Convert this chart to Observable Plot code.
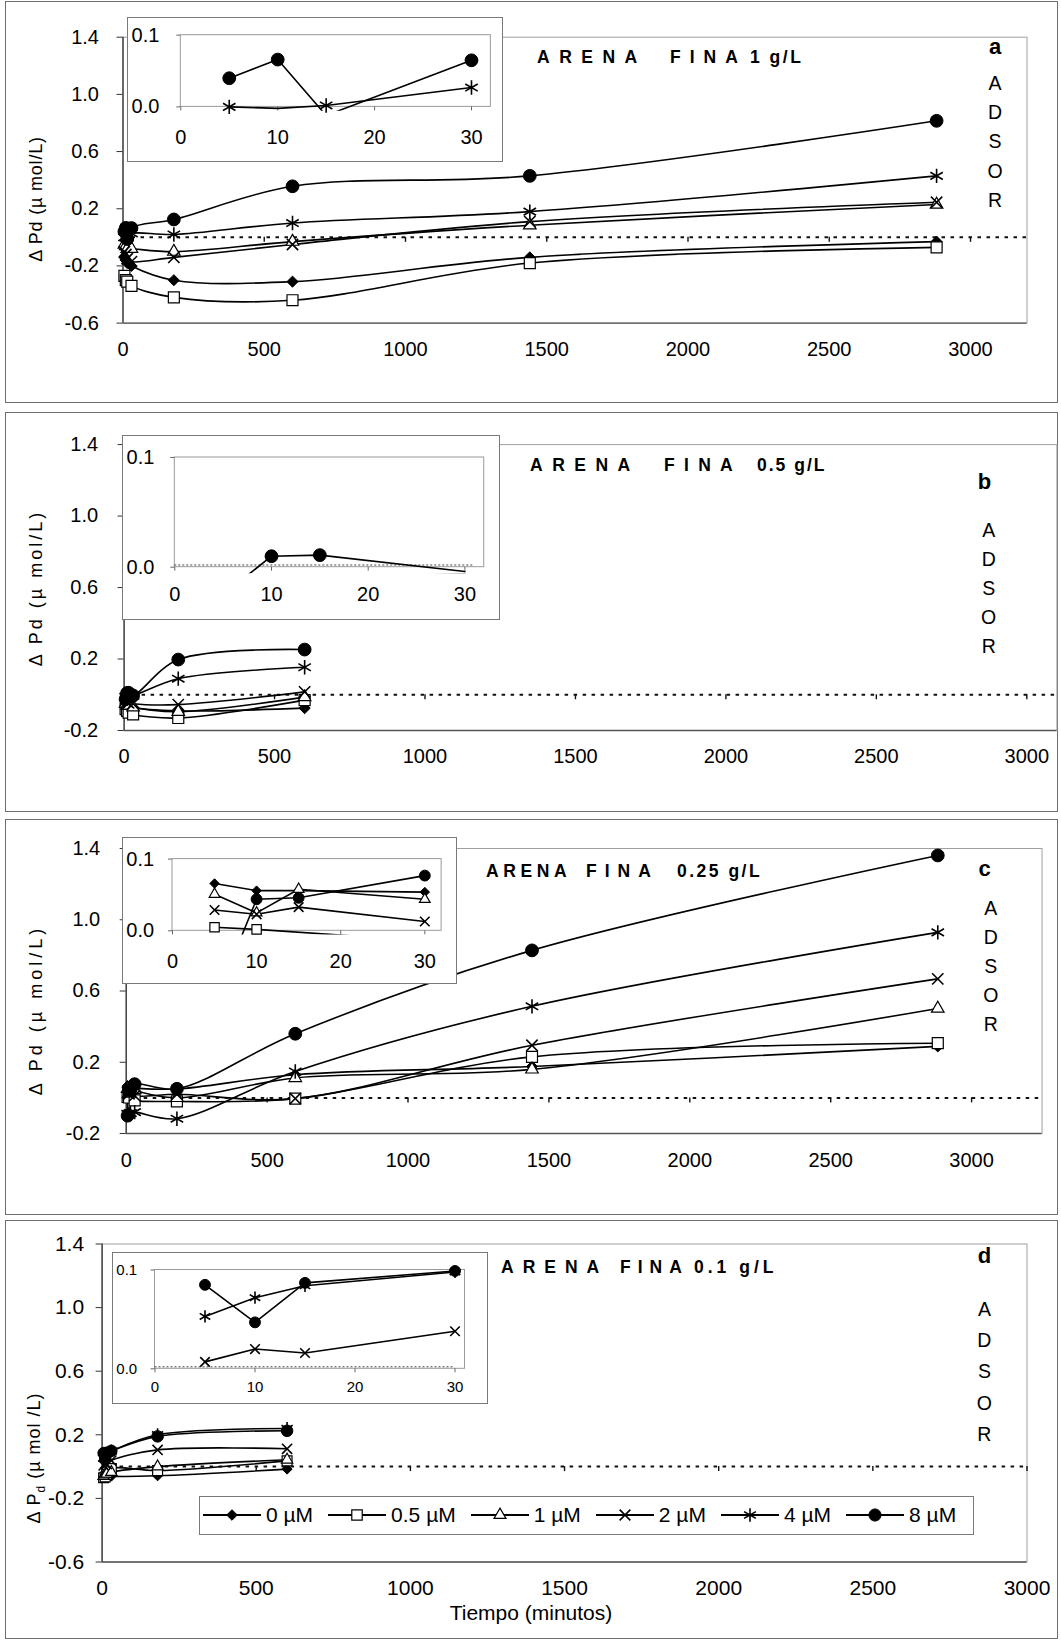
<!DOCTYPE html>
<html>
<head>
<meta charset="utf-8">
<script src="https://cdn.jsdelivr.net/npm/d3@7"></script>
<script src="https://cdn.jsdelivr.net/npm/@observablehq/plot@0.6"></script>
<style>
html,body{margin:0;padding:0;background:#fff;}
#page{position:relative;width:1061px;height:1643px;overflow:hidden;background:#fff;font-family:"Liberation Sans",Arial,Helvetica,sans-serif;color:#000;}
.frame{position:absolute;border:1.5px solid #6e6e6e;box-sizing:border-box;}
.inset{position:absolute;border:1.2px solid #7a7a7a;box-sizing:border-box;background:#fff;}
.inset svg{position:absolute;left:-1.2px;top:-1.2px;overflow:visible;}
.main{position:absolute;left:0;overflow:visible;}
.t{position:absolute;white-space:nowrap;line-height:1;}
.legend{position:absolute;border:1.2px solid #7a7a7a;box-sizing:border-box;background:#fff;display:flex;align-items:center;white-space:nowrap;}
.legend .item{display:flex;align-items:center;margin-right:15px;font-size:21px;white-space:nowrap;flex:none;}
.legend svg{display:block;margin-right:5px;flex:none;}
</style>
</head>
<body>
<div id="page"></div>
<script>
// ---------------- DATA ----------------
const seriesNames = ["0 µM", "0.5 µM", "1 µM", "2 µM", "4 µM", "8 µM"];
const timesLong = [5, 10, 15, 30, 180, 600, 1440, 2880];
const timesShort = [5, 10, 15, 30, 180, 600];
const mainXTicks = [0, 500, 1000, 1500, 2000, 2500, 3000];
const mainYTicksWide = [-0.6, -0.2, 0.2, 0.6, 1.0, 1.4];
const mainYTicksNarrow = [-0.2, 0.2, 0.6, 1.0, 1.4];
const insetXTicks = [0, 10, 20, 30];
const insetYTicks = [0, 0.1];

// Panel a — Arena fina 1 g/L
const a_0uM  = [-0.14, -0.16, -0.18, -0.20, -0.30, -0.31, -0.14, -0.03];
const a_05uM = [-0.27, -0.30, -0.31, -0.34, -0.42, -0.44, -0.18, -0.07];
const a_1uM  = [-0.05, -0.06, -0.08, -0.08, -0.10, -0.03, 0.085, 0.23];
const a_2uM  = [-0.10, -0.12, -0.15, -0.17, -0.14, -0.05, 0.11, 0.245];
const a_4uM  = [0.0, -0.002, 0.002, 0.027, 0.02, 0.10, 0.18, 0.43];
const a_8uM  = [0.040, 0.066, -0.012, 0.065, 0.125, 0.357, 0.43, 0.815];

// Panel b — Arena fina 0.5 g/L
const b_0uM  = [-0.04, -0.05, -0.06, -0.07, -0.09, -0.075];
const b_05uM = [-0.08, -0.09, -0.10, -0.11, -0.13, -0.03];
const b_1uM  = [-0.05, -0.06, -0.06, -0.07, -0.095, -0.013];
const b_2uM  = [-0.03, -0.04, -0.045, -0.05, -0.055, 0.016];
const b_4uM  = [-0.012, -0.008, -0.01, -0.006, 0.09, 0.154];
const b_8uM  = [-0.025, 0.010, 0.011, -0.004, 0.197, 0.253];

// Panel c — Arena fina 0.25 g/L
const c_0uM  = [0.066, 0.056, 0.056, 0.054, 0.05, 0.13, 0.176, 0.289];
const c_05uM = [0.005, 0.002, null, -0.014, -0.02, -0.004, 0.23, 0.307];
const c_1uM  = [0.051, 0.025, 0.058, 0.044, 0.0, 0.112, 0.16, 0.502];
const c_2uM  = [0.029, 0.023, 0.033, 0.013, 0.02, -0.004, 0.295, 0.668];
const c_4uM  = [-0.09, -0.09, -0.085, -0.08, -0.117, 0.148, 0.514, 0.929];
const c_8uM  = [-0.10, 0.044, 0.046, 0.077, 0.051, 0.36, 0.828, 1.361];

// Panel d — Arena fina 0.1 g/L
const d_0uM  = [-0.05, -0.05, -0.055, -0.06, -0.058, -0.016];
const d_05uM = [-0.07, -0.065, -0.05, -0.012, -0.025, 0.036];
const d_1uM  = [-0.06, -0.05, -0.045, -0.035, 0.0, 0.043];
const d_2uM  = [0.007, 0.020, 0.016, 0.038, 0.105, 0.112];
const d_4uM  = [0.053, 0.072, 0.084, 0.098, 0.20, 0.24];
const d_8uM  = [0.085, 0.047, 0.087, 0.099, 0.19, 0.225];

// ---------------- STYLE ----------------
const STY = [
  {symbol: "diamond2", fill: "black", r: 5.0, sw: 1},
  {symbol: "square", fill: "white", r: 6.2, sw: 1.2},
  {symbol: "triangle2", fill: "white", r: 6.0, sw: 1.2},
  {symbol: "times", fill: "none", r: 5.2, sw: 1.6},
  {symbol: "asterisk", fill: "none", r: 6.8, sw: 1.6},
  {symbol: "circle", fill: "black", r: 6.4, sw: 1}
];
const FONT = '"Liberation Sans", Arial, Helvetica, sans-serif';
const page = document.getElementById("page");

function rowsFor(times, arrays) {
  const out = [];
  arrays.forEach((arr, s) => arr.forEach((v, i) => {
    if (v !== null && v !== undefined) out.push({t: times[i], v, s, name: seriesNames[s]});
  }));
  return out;
}

function txt(html, x, y, o = {}) {
  const el = document.createElement("div");
  el.className = "t";
  el.innerHTML = html;
  el.style.left = x + "px";
  el.style.top = y + "px";
  el.style.fontSize = (o.size || 19) + "px";
  el.style.fontWeight = o.bold ? "bold" : "normal";
  el.style.letterSpacing = (o.ls || 0) + "px";
  el.style.transform = o.transform || "translate(0,-50%)";
  if (o.family) el.style.fontFamily = o.family;
  page.appendChild(el);
  return el;
}

function box(cls, x, y, w, h) {
  const el = document.createElement("div");
  el.className = cls;
  el.style.left = x + "px"; el.style.top = y + "px";
  el.style.width = w + "px"; el.style.height = h + "px";
  page.appendChild(el);
  return el;
}

function mainPlot(g, times, arrays) {
  const rows = rowsFor(times, arrays);
  const right = g.ml + g.xMax * g.ppm;
  const mr = 1061 - right;
  const pxPerUnit = (g.yBotPx - g.yTopPx) / (g.yDom[1] - g.yDom[0]);
  const mt = g.yTopPx - g.top;
  const mb = g.top + g.h - g.yBotPx;
  const marks = [
    Plot.frame({stroke: "#a0a0a0", strokeWidth: 1}),
    Plot.ruleY([g.yDom[0]], {stroke: "#555", strokeWidth: 1.3}),
    Plot.ruleY([0], {stroke: "#111", strokeWidth: 2, strokeDasharray: "3.5,5.5"}),
    Plot.ruleX(mainXTicks.filter(d => d > 0), {x: d => d, y1: 0, y2: -5 / pxPerUnit, stroke: "#111", strokeWidth: 1.4}),
    Plot.ruleX([0], {stroke: "#333", strokeWidth: 1.3}),
    Plot.axisY({ticks: g.yTicks, tickFormat: d => d.toFixed(1), tickSize: 6, tickPadding: g.yPad, fontSize: g.fs, label: null, stroke: "#333"}),
    Plot.axisX({ticks: mainXTicks, tickFormat: d => String(d), tickSize: 0, tickPadding: g.xPad, fontSize: g.fs, label: null})
  ];
  for (let s = 0; s < 6; s++) {
    const d = rows.filter(r => r.s === s);
    marks.push(Plot.line(d, {x: "t", y: "v", curve: "catmull-rom", stroke: "black", strokeWidth: 1.6}));
  }
  for (let s = 0; s < 6; s++) {
    const d = rows.filter(r => r.s === s);
    const st = STY[s];
    marks.push(Plot.dot(d, {x: "t", y: "v", symbol: st.symbol, r: st.r * g.mk, fill: st.fill, stroke: "black", strokeWidth: st.sw}));
  }
  const svg = Plot.plot({
    width: 1061, height: g.h,
    marginLeft: g.ml, marginRight: mr, marginTop: mt, marginBottom: mb,
    x: {domain: [0, g.xMax]},
    y: {domain: g.yDom},
    style: {background: "transparent", fontFamily: g.family || FONT, fontSize: g.fs + "px", color: "black", overflow: "visible"},
    marks
  });
  svg.classList.add("main");
  svg.style.position = "absolute";
  svg.style.left = "0px";
  svg.style.top = g.top + "px";
  svg.style.maxWidth = "none";
  page.appendChild(svg);
}

function insetPlot(g, times, arrays) {
  const rows = rowsFor(times, arrays).filter(r => r.t <= 30);
  const ml = g.x0px - g.left;
  const mr = g.left + g.w - (g.x0px + g.xMax * g.ppm);
  const mt = (g.y0px - g.yDom[1] * g.ppu) - g.top;
  const mb = g.top + g.h - (g.y0px - g.yDom[0] * g.ppu);
  const marks = [
    Plot.rect([0], {x1: 0, x2: g.xMax, y1: 0, y2: 0.1, fill: "none", stroke: "#9a9a9a", strokeWidth: 1}),
    Plot.ruleX(insetXTicks, {x: d => d, y1: 0, y2: -4 / g.ppu, stroke: "#666", strokeWidth: 1}),
    Plot.axisY({ticks: insetYTicks, tickFormat: d => d.toFixed(1), tickSize: 4, tickPadding: g.yPad, fontSize: g.fs, label: null, stroke: "#666"}),
    Plot.axisX({ticks: insetXTicks, tickFormat: d => String(d), tickSize: 0, tickPadding: g.xPad, fontSize: g.fs, label: null})
  ];
  if (g.zeroLine) marks.push(Plot.ruleY([0.002], {x1: 0, x2: g.xMax - 1, stroke: "#444", strokeWidth: 1, strokeDasharray: "2,2"}));
  for (let s = 0; s < 6; s++) {
    const d = rows.filter(r => r.s === s);
    marks.push(Plot.line(d, {x: "t", y: "v", stroke: "black", strokeWidth: 1.6, clip: true}));
  }
  for (let s = 0; s < 6; s++) {
    const d = rows.filter(r => r.s === s && r.v >= -0.0005 && r.v <= 0.112);
    const st = STY[s];
    marks.push(Plot.dot(d, {x: "t", y: "v", symbol: st.symbol, r: st.r * g.mk, fill: st.fill, stroke: "black", strokeWidth: st.sw}));
  }
  const svg = Plot.plot({
    width: g.w, height: g.h,
    marginLeft: ml, marginRight: mr, marginTop: mt, marginBottom: mb,
    x: {domain: [0, g.xMax]},
    y: {domain: g.yDom},
    style: {background: "transparent", fontFamily: g.family || FONT, fontSize: g.fs + "px", color: "black", overflow: "visible"},
    marks
  });
  svg.style.maxWidth = "none";
  const holder = box("inset", g.left, g.top, g.w, g.h);
  holder.appendChild(svg);
}

// ---------------- LAYOUT ----------------
box("frame", 5, 1, 1053, 402);
box("frame", 5, 412, 1053, 400);
box("frame", 5, 819, 1053, 396);
box("frame", 5, 1220, 1053, 419);

mainPlot({top: 0, h: 370, ml: 122.5, ppm: 0.2825, xMax: 3200, yDom: [-0.6, 1.4], yTopPx: 36.7, yBotPx: 322.6,
          yTicks: mainYTicksWide, fs: 20, xPad: 19, yPad: 18, mk: 1},
  timesLong, [a_0uM, a_05uM, a_1uM, a_2uM, a_4uM, a_8uM]);
mainPlot({top: 412, h: 370, ml: 123.6, ppm: 0.3009, xMax: 3100, yDom: [-0.2, 1.4], yTopPx: 444.1, yBotPx: 730,
          yTicks: mainYTicksNarrow, fs: 20, xPad: 18.5, yPad: 20, mk: 1},
  timesShort, [b_0uM, b_05uM, b_1uM, b_2uM, b_4uM, b_8uM]);
mainPlot({top: 819, h: 370, ml: 125.7, ppm: 0.2818, xMax: 3250, yDom: [-0.2, 1.4], yTopPx: 848, yBotPx: 1133,
          yTicks: mainYTicksNarrow, fs: 20, xPad: 19, yPad: 20, mk: 1},
  timesLong, [c_0uM, c_05uM, c_1uM, c_2uM, c_4uM, c_8uM]);
mainPlot({top: 1220, h: 390, ml: 101.6, ppm: 0.3083, xMax: 3000, yDom: [-0.6, 1.4], yTopPx: 1243.5, yBotPx: 1561.5,
          yTicks: mainYTicksWide, fs: 21, xPad: 18, yPad: 12, mk: 0.9},
  timesShort, [d_0uM, d_05uM, d_1uM, d_2uM, d_4uM, d_8uM]);

insetPlot({left: 126.7, top: 17.3, w: 376, h: 144.4, x0px: 180, ppm: 9.69, xMax: 32, y0px: 106.7, ppu: 717,
           yDom: [-0.006, 0.115], fs: 20, xPad: 18.5, yPad: 17.5, mk: 1, zeroLine: false},
  timesLong, [a_0uM, a_05uM, a_1uM, a_2uM, a_4uM, a_8uM]);
insetPlot({left: 121.7, top: 435, w: 378.3, h: 185, x0px: 174, ppm: 9.67, xMax: 32, y0px: 566.7, ppu: 1097,
           yDom: [-0.006, 0.115], fs: 20, xPad: 13.5, yPad: 16.5, mk: 1, zeroLine: true},
  timesShort, [b_0uM, b_05uM, b_1uM, b_2uM, b_4uM, b_8uM]);
insetPlot({left: 121.7, top: 836.7, w: 335, h: 147.3, x0px: 171.7, ppm: 8.41, xMax: 32, y0px: 930, ppu: 717,
           yDom: [-0.006, 0.115], fs: 20, xPad: 18.5, yPad: 14.4, mk: 0.85, zeroLine: false},
  timesLong, [c_0uM, c_05uM, c_1uM, c_2uM, c_4uM, c_8uM]);
insetPlot({left: 112, top: 1252, w: 376, h: 152, x0px: 154.5, ppm: 10.0, xMax: 31, y0px: 1368.3, ppu: 988,
           yDom: [-0.006, 0.112], fs: 15, xPad: 7, yPad: 13.8, mk: 0.85, zeroLine: true},
  timesShort, [d_0uM, d_05uM, d_1uM, d_2uM, d_4uM, d_8uM]);

// titles
function title(parts, y) {
  parts.forEach(p => txt(p[0], p[1], y, {size: 17.5, bold: true, ls: p[2]}));
}
title([["ARENA", 537, 9.5], ["FINA", 670, 9], ["1 g/L", 750, 2.5]], 57.6);
title([["ARENA", 530, 9.5], ["FINA", 664, 9.3], ["0.5 g/L", 757, 2]], 466);
title([["ARENA", 486, 4.6], ["FINA", 586, 8], ["0.25 g/L", 677, 2.5]], 871.5);
title([["ARENA", 501, 9], ["FINA", 620, 7], ["0.1 g/L", 694, 4]], 1268.4);

// panel letters + ADSOR
function side(letter, lx, ly, ax, ay, step) {
  txt(letter, lx, ly, {size: 22, bold: true, transform: "translate(-50%,-50%)"});
  "ADSOR".split("").forEach((c, i) => txt(c, ax, ay + i * step, {size: 19.5, transform: "translate(-50%,-50%)"}));
}
side("a", 995, 47, 995, 84, 29.2);
side("b", 984.6, 481.8, 988.7, 531, 29.1);
side("c", 984.6, 869.3, 990.8, 909, 28.9);
side("d", 984.4, 1256, 984.4, 1310, 31.2);

// y-axis titles
const rot = "translate(-50%,-50%) rotate(-90deg)";
txt("Δ Pd (µ mol/L)", 36, 199, {size: 18, ls: 0.8, transform: rot});
txt("Δ Pd (µ mol/L)", 36, 588, {size: 18, ls: 3, transform: rot});
txt("Δ Pd (µ mol/L)", 36, 1010, {size: 18, ls: 4, transform: rot});
txt("Δ P<sub style='font-size:12px'>d</sub> (µ mol /L)", 36, 1458, {size: 18, ls: 1, transform: rot});

// x-axis title
txt("Tiempo (minutos)", 531, 1612, {size: 21, transform: "translate(-50%,-50%)"});

// legend
const leg = box("legend", 199, 1496, 775, 38.5);
leg.style.paddingLeft = "3px";
const symMap = {diamond2: d3.symbolDiamond2, square: d3.symbolSquare, triangle2: d3.symbolTriangle2,
                times: d3.symbolTimes, asterisk: d3.symbolAsterisk, circle: d3.symbolCircle};
seriesNames.forEach((name, s) => {
  const st = STY[s];
  const item = document.createElement("div");
  item.className = "item";
  const sw = d3.create("svg").attr("width", 58).attr("height", 22);
  sw.append("line").attr("x1", 0).attr("x2", 58).attr("y1", 11).attr("y2", 11).attr("stroke", "black").attr("stroke-width", 1.8);
  sw.append("path").attr("transform", "translate(29,11)")
    .attr("d", d3.symbol(symMap[st.symbol], Math.PI * (st.r * 0.95) ** 2)())
    .attr("fill", st.fill).attr("stroke", "black").attr("stroke-width", st.sw);
  item.appendChild(sw.node());
  const lab = document.createElement("span");
  lab.textContent = name;
  item.appendChild(lab);
  leg.appendChild(item);
});
</script>
</body>
</html>
